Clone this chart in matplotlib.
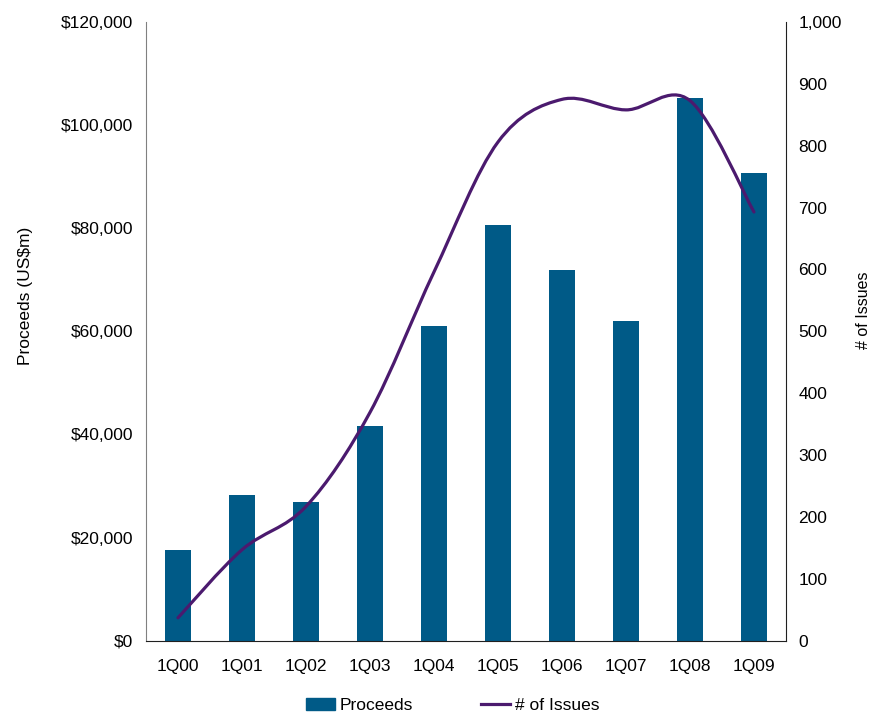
import matplotlib
matplotlib.use("Agg")
import numpy as np
from matplotlib import pyplot as plt
from matplotlib.path import Path
from matplotlib.patches import PathPatch
from matplotlib.lines import Line2D
from matplotlib.ticker import FuncFormatter

quarters = ['1Q00', '1Q01', '1Q02', '1Q03', '1Q04', '1Q05', '1Q06', '1Q07', '1Q08', '1Q09']
proceeds = [17600, 28300, 26900, 41600, 61000, 80600, 71900, 62000, 105200, 90800]
issues = [37, 147, 217, 369, 596, 806, 875, 858, 873, 693]

BAR_COLOR = '#005a87'
LINE_COLOR = '#4b1a6e'

plt.rcParams['font.family'] = ['Liberation Sans', 'DejaVu Sans']
plt.rcParams['font.size'] = 12.5


def smoothPath(xs, ys):
    # bezier segments through every point, tangents from neighbours (Excel-style smoothing)
    pts = np.column_stack([xs, ys]).astype(float)
    n = len(pts)
    verts = [pts[0]]
    codes = [Path.MOVETO]
    for i in range(n - 1):
        p0 = pts[i - 1] if i > 0 else pts[i]
        p1 = pts[i]
        p2 = pts[i + 1]
        p3 = pts[i + 2] if i + 2 < n else pts[i + 1]
        c1 = p1 + (p2 - p0) / 6
        c2 = p2 - (p3 - p1) / 6
        verts += [c1, c2, p2]
        codes += [Path.CURVE4] * 3
    return Path(verts, codes)


fig = plt.figure(figsize=(8.7, 7.13), dpi=100)
ax = fig.add_axes([0.1678, 0.1014, 0.7356, 0.8677])
x = np.arange(len(quarters))
ax.bar(x, proceeds, width=0.41, color=BAR_COLOR, zorder=2)
ax.set_xlim(-0.5, len(quarters) - 0.5)
ax.set_ylim(0, 120000)
ax.set_yticks(np.arange(0, 120001, 20000))
ax.yaxis.set_major_formatter(FuncFormatter(lambda v, p: '${:,.0f}'.format(v)))
ax.set_xticks(x)
ax.set_xticklabels(quarters)
ax.tick_params(length=0, pad=9)
ax.tick_params(axis='x', pad=13)
ax.set_ylabel('Proceeds (US$m)')
ax.yaxis.set_label_coords(-0.176, 0.557)
ax.spines['top'].set_visible(False)
ax.spines['right'].set_visible(False)
ax.spines['left'].set_color('#808080')
ax.spines['bottom'].set_color('#202020')

ax2 = ax.twinx()
ax2.set_ylim(0, 1000)
ax2.set_yticks(np.arange(0, 1001, 100))
ax2.yaxis.set_major_formatter(FuncFormatter(lambda v, p: '{:,.0f}'.format(v)))
ax2.tick_params(length=0, pad=9)
ax2.set_ylabel('# of Issues', rotation=90, fontsize=11.5)
ax2.yaxis.set_label_coords(1.109, 0.534)
for side in ['top', 'left', 'bottom']:
    ax2.spines[side].set_visible(False)
ax2.spines['right'].set_color('#202020')
ax2.add_patch(PathPatch(smoothPath(x, issues), facecolor='none', edgecolor=LINE_COLOR,
                        lw=2.3, capstyle='round', zorder=3))

handles = [plt.Rectangle((0, 0), 1, 1, color=BAR_COLOR),
           Line2D([0], [0], color=LINE_COLOR, lw=2.3)]
fig.legend(handles, ['Proceeds', '# of Issues'], loc='center', bbox_to_anchor=(0.52, 0.01),
           ncol=2, frameon=False, handlelength=1.7, handletextpad=0.25, columnspacing=3.9)

fig.savefig('out.png', dpi=100)
